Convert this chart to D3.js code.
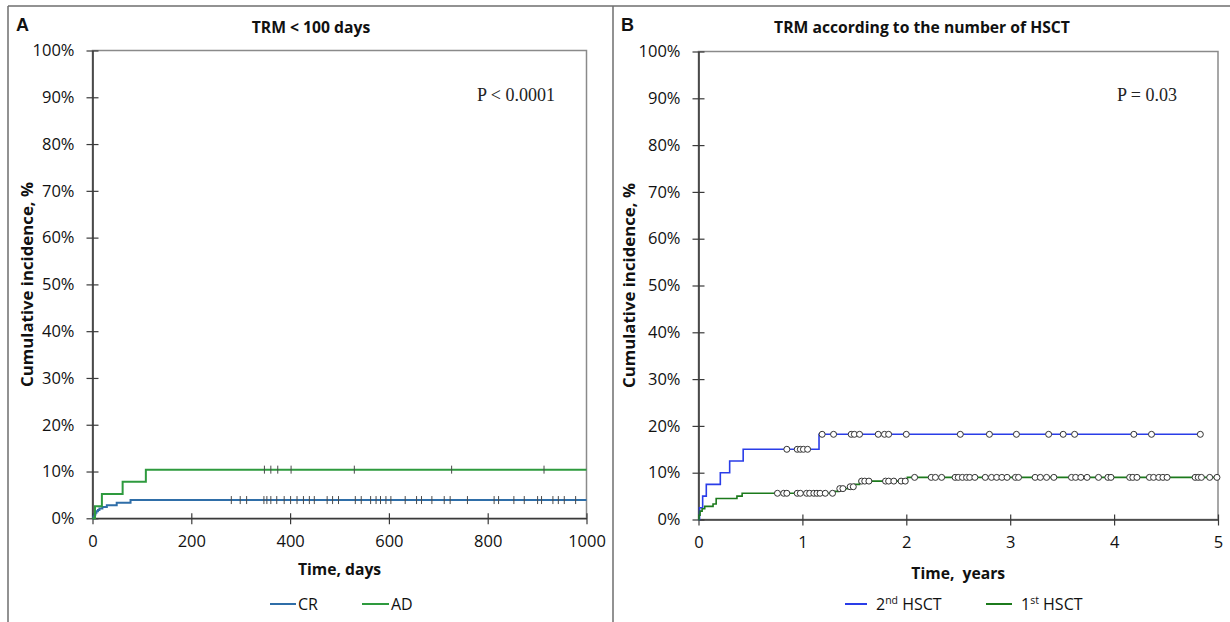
<!DOCTYPE html>
<html>
<head>
<meta charset="utf-8">
<script src="https://cdn.jsdelivr.net/npm/d3@7"></script>
<style>
  html, body { margin: 0; padding: 0; background: #fff; }
  svg { display: block; }
</style>
</head>
<body>
<svg id="fig" width="1230" height="622"></svg>
<script>
// ---- values ----
const percentTicks = [0, 10, 20, 30, 40, 50, 60, 70, 80, 90, 100];
const dayTicks = [0, 200, 400, 600, 800, 1000];
const yearTicks = [0, 1, 2, 3, 4, 5];

// Panel A: TRM < 100 days, cumulative incidence (%) by day
const crStepDays = [2, 4, 6, 8, 11, 14, 20, 29, 49, 77];
const crStepPct  = [0.4, 0.8, 1.2, 1.5, 1.8, 2.1, 2.4, 2.8, 3.3, 3.9];
const crCensorDays = [281, 299, 312, 347, 353, 361, 373, 388, 401, 414, 427, 439, 449, 475, 486, 498,
  532, 544, 563, 574, 583, 594, 604, 633, 656, 666, 687, 712, 724, 759, 813, 822, 853, 874, 901, 909,
  932, 943, 955, 978];

const adStepDays = [5, 19, 61, 108];
const adStepPct  = [2.6, 5.2, 7.8, 10.4];
const adCensorDays = [348, 361, 375, 402, 530, 727, 914];

const daysEnd = 1000;

// Panel B: TRM by number of HSCT, cumulative incidence (%) by year
const hsct2StepYears = [0.01, 0.04, 0.075, 0.21, 0.30, 0.43, 1.16];
const hsct2StepPct   = [2.5, 5.0, 7.5, 10.0, 12.5, 15.0, 18.2];
const hsct2CensorYears = [0.85, 0.95, 0.98, 1.01, 1.05, 1.19, 1.30, 1.47, 1.50, 1.55, 1.73, 1.79, 1.83,
  2.00, 2.52, 2.80, 3.06, 3.37, 3.51, 3.62, 4.19, 4.36, 4.83];
const hsct2End = 4.83;

const hsct1StepYears = [0.005, 0.015, 0.035, 0.06, 0.14, 0.17, 0.37, 0.42, 1.30, 1.35, 1.44, 1.50, 1.55, 2.01];
const hsct1StepPct   = [0.9, 1.8, 2.3, 2.8, 3.3, 4.5, 5.0, 5.6, 6.0, 6.6, 7.0, 7.5, 8.2, 9.0];
const hsct1CensorYears = [0.76, 0.82, 0.85, 0.95, 0.98, 1.04, 1.07, 1.11, 1.14, 1.17, 1.22, 1.29, 1.36, 1.39,
  1.46, 1.49, 1.57, 1.60, 1.64, 1.80, 1.83, 1.88, 1.95, 1.99, 2.08, 2.24, 2.28, 2.34, 2.47, 2.50, 2.54,
  2.58, 2.61, 2.66, 2.76, 2.82, 2.87, 2.92, 2.97, 3.05, 3.08, 3.24, 3.29, 3.35, 3.42, 3.59, 3.63, 3.68,
  3.74, 3.85, 3.94, 3.97, 4.15, 4.18, 4.22, 4.34, 4.38, 4.43, 4.47, 4.51, 4.78, 4.81, 4.84, 4.92, 4.99];
const hsct1End = 4.99;

// ---- drawing ----
const SANS = "'Open Sans', 'Noto Sans', sans-serif";
const SERIF = "'Liberation Serif', 'DejaVu Serif', serif";
const svg = d3.select("#fig");

// figure frame and panel divider
const frame = svg.append("g").attr("stroke", "#6e6e6e").attr("stroke-width", 1.5).attr("fill", "none");
frame.append("line").attr("x1", 8).attr("y1", 6).attr("x2", 1230).attr("y2", 6);
frame.append("line").attr("x1", 8).attr("y1", 6).attr("x2", 8).attr("y2", 622);
frame.append("line").attr("x1", 613).attr("y1", 6).attr("x2", 613).attr("y2", 622);

function levelAt(times, pcts, t) {
  let v = 0;
  for (let i = 0; i < times.length; i++) if (times[i] <= t) v = pcts[i];
  return v;
}

function stepPoints(times, pcts, end) {
  const pts = [[0, 0]];
  times.forEach((t, i) => pts.push([t, pcts[i]]));
  pts.push([end, pcts[pcts.length - 1]]);
  return pts;
}

function drawPanel(p) {
  const g = svg.append("g");
  const x = d3.scaleLinear().domain(p.xDomain).range(p.xRange);
  const y = d3.scaleLinear().domain([0, 100]).range(p.yRange);

  // plot box (light)
  g.append("rect")
    .attr("x", p.xRange[0]).attr("y", p.yRange[1])
    .attr("width", p.xRange[1] - p.xRange[0]).attr("height", p.yRange[0] - p.yRange[1])
    .attr("fill", "none").attr("stroke", "#8a8a8a").attr("stroke-width", 1.5);

  // y axis with crossing ticks
  const ya = d3.axisLeft(y).tickValues(percentTicks).tickFormat(d => d + "%")
    .tickSize(6).tickSizeOuter(0).tickPadding(12);
  const yg = g.append("g").attr("transform", `translate(${p.xRange[0]},0)`).call(ya);
  yg.selectAll(".tick line").attr("x1", 6);
  // x axis with crossing ticks
  const xa = d3.axisBottom(x).tickValues(p.xTicks).tickFormat(d3.format("d"))
    .tickSize(6).tickSizeOuter(0).tickPadding(11);
  const xg = g.append("g").attr("transform", `translate(0,${p.yRange[0]})`).call(xa);
  xg.selectAll(".tick line").attr("y1", -5);

  [yg, xg].forEach(ax => {
    ax.attr("font-family", SANS).attr("font-size", 16.5);
    ax.select(".domain").attr("stroke", "#3a3a3a").attr("stroke-width", 1.6);
    ax.selectAll(".tick line").attr("stroke", "#3a3a3a").attr("stroke-width", 1.2);
    ax.selectAll(".tick text").attr("fill", "#111");
  });

  // curves
  const line = d3.line().x(d => x(d[0])).y(d => y(d[1])).curve(d3.curveStepAfter);
  p.series.forEach(s => {
    g.append("path").datum(stepPoints(s.times, s.pcts, s.end))
      .attr("fill", "none").attr("stroke", s.color).attr("stroke-width", s.width)
      .attr("d", line);
  });
  // censoring marks
  p.series.forEach(s => {
    if (s.mark === "tick") {
      g.append("g").selectAll("line").data(s.censor).join("line")
        .attr("x1", d => x(d)).attr("x2", d => x(d))
        .attr("y1", d => y(levelAt(s.times, s.pcts, d)) - 4)
        .attr("y2", d => y(levelAt(s.times, s.pcts, d)) + 4)
        .attr("stroke", "#4a4a4a").attr("stroke-width", 1);
    } else {
      g.append("g").selectAll("circle").data(s.censor).join("circle")
        .attr("cx", d => x(d)).attr("cy", d => y(levelAt(s.times, s.pcts, d)))
        .attr("r", 3).attr("fill", "#fff").attr("stroke", "#333").attr("stroke-width", 1);
    }
  });

  // texts
  g.append("text").attr("x", p.letterX).attr("y", 31)
    .attr("font-family", "'Liberation Sans', Arial, sans-serif").attr("font-weight", "bold")
    .attr("font-size", 18).attr("fill", "#111").text(p.letter);
  g.append("text").attr("x", p.titleX).attr("y", 33).attr("text-anchor", "middle")
    .attr("font-family", SANS).attr("font-weight", "bold").attr("font-size", 15.7)
    .attr("fill", "#111").text(p.title);
  g.append("text").attr("x", p.pX).attr("y", 101)
    .attr("font-family", SERIF).attr("font-size", 18).attr("fill", "#222").text(p.pText);
  const xc = (p.xRange[0] + p.xRange[1]) / 2;
  const yc = (p.yRange[0] + p.yRange[1]) / 2;
  g.append("text").attr("x", xc).attr("y", p.xLabelY).attr("text-anchor", "middle")
    .attr("font-family", SANS).attr("font-weight", "bold").attr("font-size", 15.7)
    .attr("fill", "#111").attr("xml:space", "preserve").text(p.xLabel);
  g.append("text").attr("transform", `translate(${p.yLabelX},${yc}) rotate(-90)`)
    .attr("text-anchor", "middle")
    .attr("font-family", SANS).attr("font-weight", "bold").attr("font-size", 16.8)
    .attr("fill", "#111").text("Cumulative incidence, %");

  // legend
  const lg = g.append("g");
  p.legend.forEach(item => {
    lg.append("line").attr("x1", item.x).attr("x2", item.x + item.len)
      .attr("y1", 604).attr("y2", 604).attr("stroke", item.color).attr("stroke-width", 2);
    const t = lg.append("text").attr("x", item.x + item.len + item.gap).attr("y", 609.5)
      .attr("font-family", SANS).attr("font-size", 16).attr("fill", "#111");
    t.append("tspan").text(item.pre);
    if (item.sup) t.append("tspan").attr("dy", -6).attr("font-size", 10.5).text(item.sup);
    if (item.post) t.append("tspan").attr("dy", item.sup ? 6 : 0).text(item.post);
  });
}

drawPanel({
  xDomain: [0, 1000], xRange: [92.5, 586.5], yRange: [518.3, 50.5],
  xTicks: dayTicks,
  letter: "A", letterX: 16, title: "TRM < 100 days", titleX: 311,
  pText: "P < 0.0001", pX: 477,
  xLabel: "Time, days", xLabelY: 575, yLabelX: 33,
  series: [
    { times: crStepDays, pcts: crStepPct, end: daysEnd, censor: crCensorDays, color: "#2f6ea8", width: 2, mark: "tick" },
    { times: adStepDays, pcts: adStepPct, end: daysEnd, censor: adCensorDays, color: "#2e9a3e", width: 2, mark: "tick" }
  ],
  legend: [
    { x: 270, len: 26, gap: 2, color: "#2f6ea8", pre: "CR" },
    { x: 362, len: 27, gap: 2, color: "#2e9a3e", pre: "AD" }
  ]
});

drawPanel({
  xDomain: [0, 5], xRange: [698.5, 1218], yRange: [519.5, 51.5],
  xTicks: yearTicks,
  letter: "B", letterX: 621, title: "TRM according to the number of HSCT", titleX: 922,
  pText: "P = 0.03", pX: 1117,
  xLabel: "Time,  years", xLabelY: 579, yLabelX: 635,
  series: [
    { times: hsct2StepYears, pcts: hsct2StepPct, end: hsct2End, censor: hsct2CensorYears, color: "#2a3de8", width: 1.6, mark: "circle" },
    { times: hsct1StepYears, pcts: hsct1StepPct, end: hsct1End, censor: hsct1CensorYears, color: "#1c7a1c", width: 1.6, mark: "circle" }
  ],
  legend: [
    { x: 845, len: 22, gap: 9, color: "#2a3de8", pre: "2", sup: "nd", post: " HSCT" },
    { x: 986, len: 26, gap: 9, color: "#1c7a1c", pre: "1", sup: "st", post: " HSCT" }
  ]
});
</script>
</body>
</html>
